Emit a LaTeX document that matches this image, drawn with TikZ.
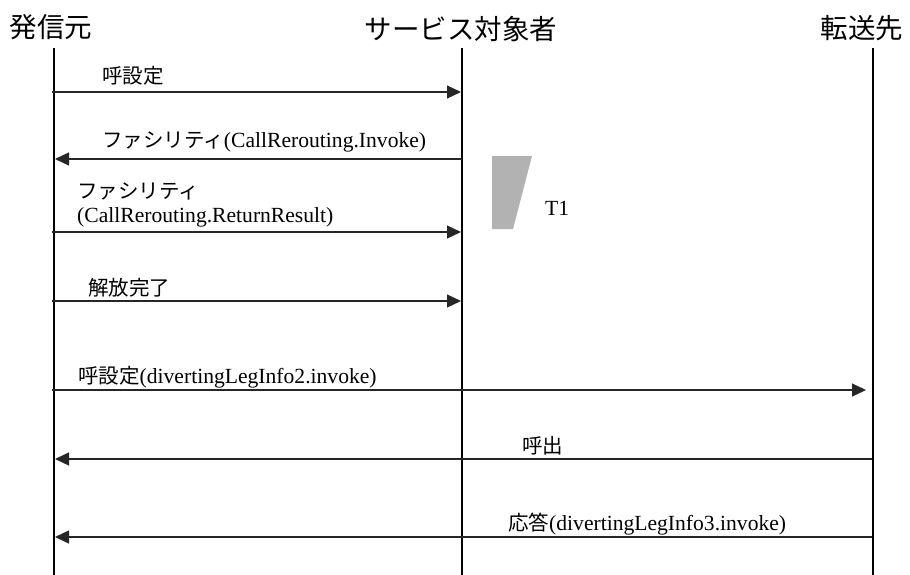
\documentclass[tikz,border=0pt]{standalone}
\usepackage{fontspec}
\setmainfont{Liberation Serif}
\newfontfamily\jp{Noto Sans CJK JP}
\newcommand\jptxt[1]{{\jp\fontsize{20.5}{24}\selectfont #1}}
\usetikzlibrary{arrows.meta}
\begin{document}
\begin{tikzpicture}[x=1pt,y=-1pt,
  life/.style={line width=1.8pt, black},
  msg/.style={line width=1.2pt, black!85, -{Triangle[length=14pt,width=13pt]}},
  hdr/.style={font=\jp\fontsize{27.5}{30}\selectfont, inner sep=0pt, anchor=center},
  lbl/.style={font=\fontsize{21.6}{24}\selectfont, inner sep=0pt, anchor=base west},
]
\useasboundingbox (0,0) rectangle (910,574);
% headers
\node[hdr] (hA) at (51,27) {発信元};
\node[hdr] (hB) at (461,29) {サービス対象者};
\node[hdr] (hC) at (862,28) {転送先};
% lifelines
\coordinate (Atop) at (54,48);  \coordinate (Abot) at (54,576);
\coordinate (Btop) at (462,48); \coordinate (Bbot) at (462,576);
\coordinate (Ctop) at (873,48); \coordinate (Cbot) at (873,576);
\draw[life] (Atop) -- (Abot);
\draw[life] (Btop) -- (Bbot);
\draw[life] (Ctop) -- (Cbot);
% message end points
\coordinate (m1s) at (52,92);  \coordinate (m1e) at (461,92);
\coordinate (m2s) at (462,159); \coordinate (m2e) at (55,159);
\coordinate (m3s) at (52,232); \coordinate (m3e) at (461,232);
\coordinate (m4s) at (52,301); \coordinate (m4e) at (461,301);
\coordinate (m5s) at (52,390); \coordinate (m5e) at (866,390);
\coordinate (m6s) at (872,459); \coordinate (m6e) at (55,459);
\coordinate (m7s) at (872,537); \coordinate (m7e) at (55,537);
\draw[msg] (m1s) -- (m1e);
\draw[msg] (m2s) -- (m2e);
\draw[msg] (m3s) -- (m3e);
\draw[msg] (m4s) -- (m4e);
\draw[msg] (m5s) -- (m5e);
\draw[msg] (m6s) -- (m6e);
\draw[msg] (m7s) -- (m7e);
% labels
\node[lbl] (l1) at (102,83) {\jptxt{呼設定}};
\node[lbl] (l2) at (102,147) {\jptxt{ファシリティ}(CallRerouting.Invoke)};
\node[lbl] (l3a) at (77,198) {\jptxt{ファシリティ}};
\node[lbl] (l3b) at (77,222) {(CallRerouting.ReturnResult)};
\node[lbl] (l4) at (88,295) {\jptxt{解放完了}};
\node[lbl] (l5) at (78,383) {\jptxt{呼設定}(divertingLegInfo2.invoke)};
\node[lbl] (l6) at (522,453) {\jptxt{呼出}};
\node[lbl] (l7) at (508,530) {\jptxt{応答}(divertingLegInfo3.invoke)};
% timer T1
\fill[black!30] (492,156) -- (532,156) -- (513,229) -- (492,229) -- cycle;
\node[lbl] (t1) at (545,215) {T1};
\end{tikzpicture}
\end{document}
